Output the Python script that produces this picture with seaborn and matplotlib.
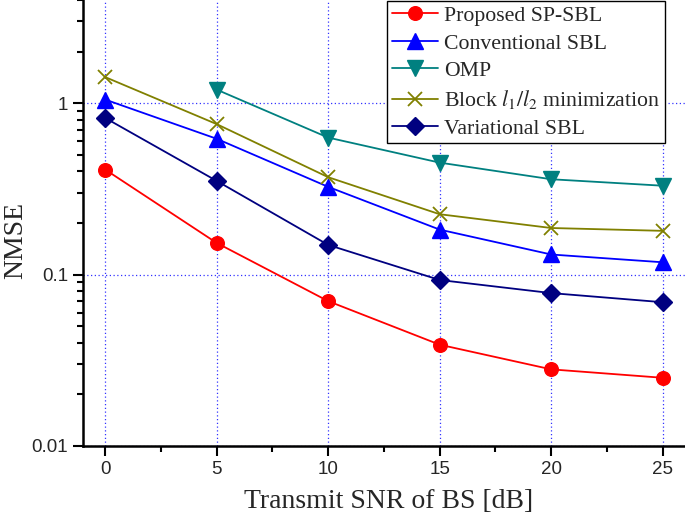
import numpy as np
import pandas as pd
import matplotlib
matplotlib.use("Agg")
import matplotlib.pyplot as plt
import seaborn as sns
from matplotlib.ticker import FixedLocator, NullFormatter, LogLocator

snr = [0, 5, 10, 15, 20, 25]
snr_omp = [5, 10, 15, 20, 25]
proposed = [0.41, 0.153, 0.070, 0.039, 0.028, 0.025]
conventional = [1.05, 0.62, 0.325, 0.183, 0.131, 0.118]
omp = [1.2, 0.63, 0.45, 0.36, 0.33]
block = [1.42, 0.755, 0.37, 0.225, 0.187, 0.180]
variational = [0.82, 0.352, 0.149, 0.093, 0.078, 0.069]

labels = ["Proposed SP-SBL", "Conventional SBL", "OMP",
          "Block $l_1/l_2$ minimization", "Variational SBL"]
x_ticks = [0, 5, 10, 15, 20, 25]
y_ticks = [0.01, 0.1, 1]
y_ticklabels = ["0.01", "0.1", "1"]

sns.set_theme(style="ticks")
plt.rcParams["font.family"] = ["Liberation Sans", "DejaVu Sans"]
plt.rcParams["mathtext.fontset"] = "stix"

fig = plt.figure(figsize=(6.85, 5.18), dpi=100)
ax = fig.add_axes([0.121, 0.139, 0.879, 0.861])

series = [
    (snr, proposed, labels[0], "red", "o", 9.8, 1.0),
    (snr, conventional, labels[1], "blue", "^", 11, 1.0),
    (snr_omp, omp, labels[2], "#008080", "v", 11, 1.0),
    (snr, block, labels[3], "#808000", "x", 10, 1.3),
    (snr, variational, labels[4], "#000080", "D", 9.3, 1.0),
]
for xs, ys, lab, col, mk, ms, mew in series:
    df = pd.DataFrame({"x": xs, "y": ys})
    sns.lineplot(data=df, x="x", y="y", ax=ax, color=col, marker=mk,
                 markersize=ms, markeredgecolor=col, markeredgewidth=mew,
                 linewidth=1.3, label=lab)

ax.set_yscale("log")
ax.set_xlim(-1, 26)
ax.set_ylim(0.01, 4.0)
ax.set_xticks(x_ticks)
ax.set_xticklabels([str(v) for v in x_ticks])
ax.xaxis.set_minor_locator(FixedLocator([-2.5 + 5 * i for i in range(1, 7)]))
ax.set_yticks(y_ticks)
ax.set_yticklabels(y_ticklabels)
ax.yaxis.set_minor_locator(LogLocator(base=10, subs=np.arange(2, 10)))
ax.yaxis.set_minor_formatter(NullFormatter())

ax.grid(True, which="major", color="blue", linestyle=(0, (1, 2)), linewidth=0.9, alpha=0.8)
ax.tick_params(axis="both", which="major", direction="out", length=7, width=1.5,
               labelsize=13.5, color="black")
ax.tick_params(axis="both", which="minor", direction="out", length=4, width=1.5,
               color="black")
for side in ["left", "bottom"]:
    ax.spines[side].set_linewidth(1.8)
    ax.spines[side].set_color("black")
for side in ["top", "right"]:
    ax.spines[side].set_visible(False)

ax.set_xlabel("Transmit SNR of BS [dB]", family="Liberation Serif", fontsize=20)
ax.set_ylabel("NMSE", family="Liberation Serif", fontsize=20)
ax.xaxis.set_label_coords(0.508, -0.097)
ax.yaxis.set_label_coords(-0.091, 0.46)

leg = ax.legend(loc="upper right", bbox_to_anchor=(0.971, 0.998), bbox_transform=fig.transFigure,
                prop={"family": "Liberation Serif", "size": 15.7}, frameon=True, fancybox=False,
                handlelength=2.1, handletextpad=0.3, borderpad=0.22, labelspacing=0.33,
                borderaxespad=0)
leg.get_frame().set_edgecolor("black")
leg.get_frame().set_linewidth(1.0)
leg.get_frame().set_alpha(1.0)

fig.savefig("out.png", dpi=100)
